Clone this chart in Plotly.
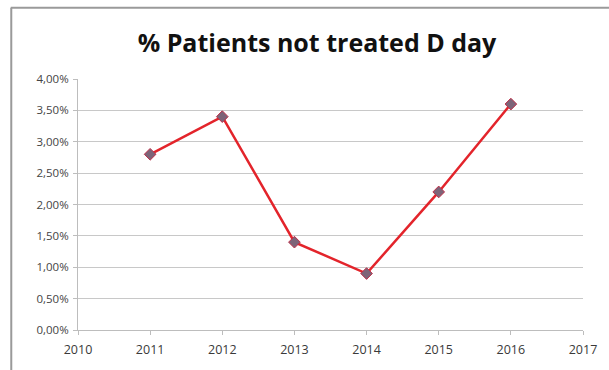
import plotly.graph_objects as go

years = [2011, 2012, 2013, 2014, 2015, 2016]
pct_not_treated = [2.8, 3.4, 1.4, 0.9, 2.2, 3.6]

x_ticks = [2010, 2011, 2012, 2013, 2014, 2015, 2016, 2017]
y_ticks = [0, 0.5, 1.0, 1.5, 2.0, 2.5, 3.0, 3.5, 4.0]
y_ticktext = [f"{v:.2f}%".replace(".", ",") for v in y_ticks]

W, H = 609, 370
L, R, T, B = 78, 24, 79, 39
pw, ph = W - L - R, H - T - B

def px_to_paper_x(px):
    return (px - L) / pw

def px_to_paper_y(py):
    return (H - B - py) / ph

fig = go.Figure()
fig.add_trace(go.Scatter(
    x=years, y=pct_not_treated, mode="lines+markers",
    line=dict(color="#e3242b", width=2.5),
    marker=dict(symbol="diamond", size=9, color="#7d6478",
                line=dict(color="#c0304a", width=1)),
    showlegend=False,
))

fig.update_layout(
    width=W, height=H,
    margin=dict(l=L, r=R, t=T, b=B),
    paper_bgcolor="white", plot_bgcolor="white",
    title=dict(text="<b>% Patients not treated D day</b>", x=317 / W, xanchor="center",
               y=1 - 43 / H, yanchor="middle",
               font=dict(family="Open Sans", size=25, color="#111111")),
    xaxis=dict(range=[2010, 2017], tickvals=x_ticks, ticktext=[str(v) for v in x_ticks],
               showgrid=False, zeroline=False, showline=True, linecolor="#bdbdbd", linewidth=1,
               ticks="outside", ticklen=4, tickcolor="#bdbdbd", ticklabelstandoff=4,
               tickfont=dict(family="Open Sans", size=12.5, color="#3a3a3a")),
    yaxis=dict(range=[0, 4], tickvals=y_ticks, ticktext=y_ticktext,
               showgrid=True, gridcolor="#c8c8c8", gridwidth=1, zeroline=False,
               showline=True, linecolor="#bdbdbd", linewidth=1,
               ticks="outside", ticklen=4, tickcolor="#bdbdbd", ticklabelstandoff=2,
               tickfont=dict(family="Open Sans", size=11.5, color="#444444")),
    shapes=[
        dict(type="line", xref="paper", yref="paper",
             x0=px_to_paper_x(10.5), x1=px_to_paper_x(620),
             y0=px_to_paper_y(7.5), y1=px_to_paper_y(7.5),
             line=dict(color="#9a9a9a", width=2)),
        dict(type="line", xref="paper", yref="paper",
             x0=px_to_paper_x(11), x1=px_to_paper_x(11),
             y0=px_to_paper_y(7.5), y1=px_to_paper_y(380),
             line=dict(color="#9a9a9a", width=2)),
    ],
)

fig.write_html("out.html")
